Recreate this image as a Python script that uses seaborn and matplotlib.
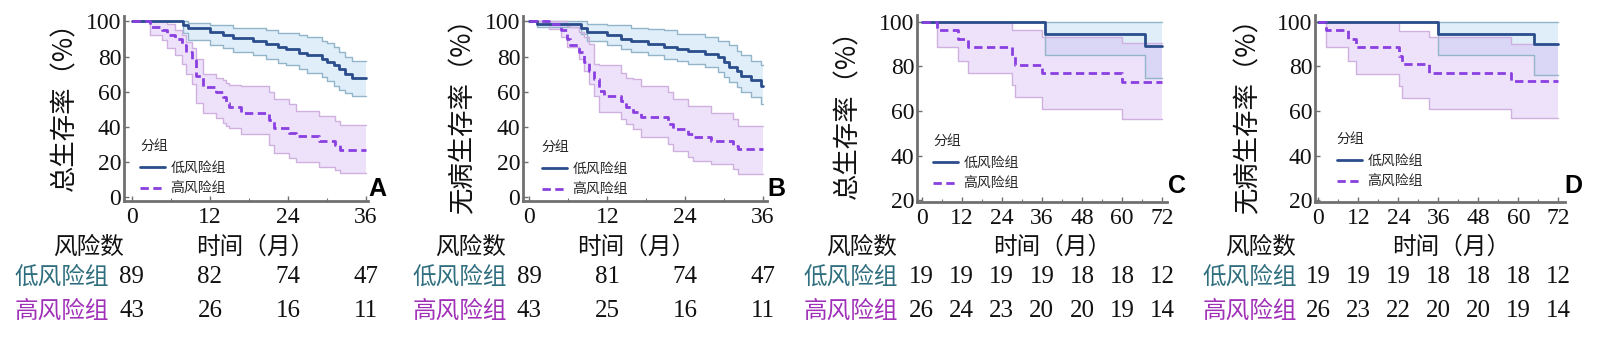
import matplotlib
matplotlib.use("Agg")
import matplotlib.pyplot as plt
import matplotlib.transforms as mtransforms
from matplotlib.ticker import MultipleLocator
import seaborn as sns

# ---------------- data ----------------
# Panel A : overall survival (training set, 36 months)
a_low_t = [0, 7.9, 8.7, 12, 14, 15.5, 18.6, 20.6, 22.4, 23.7, 25.7, 27, 29.2, 30, 31, 31.8, 32.8, 33.8, 36]
a_low_s = [100, 98, 96, 94.2, 92.3, 90.8, 88.8, 86.9, 85.6, 84.2, 82.3, 80.8, 78.8, 77, 75, 72.7, 70.2, 67.7, 67.7]
a_low_hi = [100, 100, 99, 98, 98, 96.5, 96.5, 95.2, 93.3, 93.3, 92, 91, 89, 88, 85.6, 82.7, 79.8, 77.5, 77.5]
a_low_lo = [100, 93.3, 89.4, 86.5, 84.6, 82.7, 80.8, 78.5, 76.5, 75, 73, 70.8, 68.3, 65.8, 63.5, 61, 59.2, 57.3, 57.3]
a_high_t = [0, 2.8, 4.6, 5.4, 6.6, 7.7, 8.4, 9.2, 9.9, 11, 13, 14, 14.5, 15, 16.8, 21.1, 21.9, 24.2, 25.2, 28.7, 31.3, 32, 36]
a_high_s = [100, 97.1, 95.2, 92.3, 90, 86.5, 82.7, 78.8, 69.2, 62.5, 59.6, 56.7, 53.8, 51.5, 48, 43.8, 39.4, 36.5, 34.6, 31.7, 29.8, 26.9, 26.9]
a_high_hi = [100, 100, 100, 98.5, 95.2, 92.3, 88.5, 84.6, 78.8, 70, 68, 66.5, 65, 64, 63, 59.6, 55.8, 52.9, 49, 46.2, 43.3, 40.8, 40.8]
a_high_lo = [100, 92.3, 89.4, 84.6, 80.8, 76, 70.2, 64.4, 53.8, 48, 45.2, 42.3, 40.5, 39.4, 35.6, 29.8, 25, 22.1, 20.2, 17.3, 15.4, 13.8, 13.8]

# Panel B : disease-free survival (training set, 36 months)
b_low_t = [0, 1.2, 7.9, 8.9, 12, 14.1, 15.6, 18.2, 20.8, 22.8, 24.4, 27, 29, 30, 30.8, 31.9, 32.6, 34.2, 35.7, 36]
b_low_s = [100, 98.3, 96.4, 93.9, 92, 90.1, 88.8, 87.2, 85.7, 84.4, 83, 81.5, 79.6, 76.8, 73.9, 72, 69.1, 66.7, 63.4, 63.4]
b_low_hi = [100, 100, 100, 98.7, 97.7, 97.7, 96.4, 95.5, 94.9, 93, 93, 91, 89.1, 89.1, 86.3, 83.4, 80.6, 77.7, 74.9, 74.9]
b_low_lo = [100, 96.8, 93, 89.1, 86.3, 84.4, 82.5, 80.6, 78.7, 77.3, 75.8, 73.9, 71, 68.2, 65.3, 62.5, 59.6, 56.8, 53, 53]
b_high_t = [0, 3, 4.8, 5.8, 6.3, 7.6, 8.4, 9.2, 9.9, 10.7, 11.5, 14.1, 14.8, 15.9, 17.2, 21.3, 22.1, 24.4, 25.2, 28, 31.3, 32.1, 36]
b_high_s = [100, 98.3, 94.9, 90.1, 86.3, 82.5, 76.8, 72, 67.2, 60.6, 57.7, 54.9, 51, 48.2, 45.7, 41.5, 38.7, 35.8, 34.3, 31.6, 29.1, 27.4, 27.4]
b_high_hi = [100, 100, 100, 97.5, 97, 94, 91, 87.2, 76, 75, 75, 70.5, 67.5, 67, 63.5, 59.6, 56, 52, 52, 48, 44.4, 40.6, 40.6]
b_high_lo = [100, 95.8, 91, 85.3, 85.3, 78.7, 72, 64.4, 57.7, 48.2, 48.2, 44.4, 41.5, 38.7, 33.9, 30.1, 26.3, 22.5, 20.6, 18.7, 15.8, 13, 13]

# Panel C : overall survival (validation set, 72 months)
c_low_t = [0, 37, 67, 72]
c_low_s = [100, 94.7, 89, 89]
c_low_hi = [100, 100, 100, 100]
c_low_lo = [100, 85, 74.6, 74.6]
c_high_t = [0, 4.7, 11, 14, 27, 28, 36, 60, 72]
c_high_s = [100, 96.2, 92.3, 88.5, 84.6, 80.8, 76.9, 73.1, 73.1]
c_high_hi = [100, 100, 100, 100, 96.5, 96.5, 93.2, 90.3, 90.3]
c_high_lo = [100, 88.8, 82.4, 76.8, 71.6, 66.4, 61.1, 56.6, 56.6]

# Panel D : disease-free survival (validation set, 72 months)
d_low_t = [0, 36, 64.7, 72]
d_low_s = [100, 94.6, 89.8, 89.8]
d_low_hi = [100, 100, 100, 100]
d_low_lo = [100, 85, 76, 76]
d_high_t = [0, 2.2, 9, 11.2, 24.2, 25, 33.2, 57.7, 72]
d_high_s = [100, 96.1, 92.3, 88.6, 84.6, 81.2, 77.1, 73.4, 73.4]
d_high_hi = [100, 100, 100, 100, 95.8, 95.8, 93.1, 90.1, 90.1]
d_high_lo = [100, 88.6, 82.4, 76.7, 71.2, 65.9, 61.1, 56.7, 56.7]

# Number-at-risk tables
ab_risk_times = [0, 12, 24, 36]
a_risk_low = [89, 82, 74, 47]
a_risk_high = [43, 26, 16, 11]
b_risk_low = [89, 81, 74, 47]
b_risk_high = [43, 25, 16, 11]
cd_risk_times = [0, 12, 24, 36, 48, 60, 72]
c_risk_low = [19, 19, 19, 19, 18, 18, 12]
c_risk_high = [26, 24, 23, 20, 20, 19, 14]
d_risk_low = [19, 19, 19, 18, 18, 18, 12]
d_risk_high = [26, 23, 22, 20, 20, 19, 14]

group_labels = ["低风险组", "高风险组"]
legend_title = "分组"
ylabels = ["总生存率（%）", "无病生存率（%）", "总生存率（%）", "无病生存率（%）"]
panel_letters = ["A", "B", "C", "D"]
risk_header = "风险数"
time_header = "时间（月）"

# ---------------- style ----------------
sns.set_theme(style="white")
plt.rcParams["font.family"] = ["Noto Sans CJK SC", "DejaVu Sans"]

BLUE = "#2b4d8c"
PURPLE = "#8a3fe0"
BLUE_FILL = "#a8d0f0"
PURPLE_FILL = "#c9a0f0"
BLUE_EDGE = "#93b5c9"
PURPLE_EDGE = "#cfb0e0"
SPINE = "#707070"
LOW_TXT = "#2f6e7e"
HIGH_TXT = "#a030b8"
SERIF = ["Liberation Serif", "DejaVu Serif"]

W, H = 1600, 338
fig = plt.figure(figsize=(16, 3.38), dpi=100)


def px_axes(left, right, top, bottom):
    return fig.add_axes([left / W, 1 - bottom / H, (right - left) / W, (bottom - top) / H])


panels = [
    dict(box=(124, 368, 16, 201), xlim=(-1.2, 36.3), ylim=(-2.3, 103.1), yt=[0, 20, 40, 60, 80, 100],
         xt=[0, 12, 24, 36], minor=6, low=(a_low_t, a_low_s, a_low_lo, a_low_hi),
         high=(a_high_t, a_high_s, a_high_lo, a_high_hi), risk=(ab_risk_times, a_risk_low, a_risk_high),
         ylab_x=-0.242, ylab_y=0.545, leg=(0.066, 0.335), letter=(377, 189),
         rh=88, th=255, gl=61.5),
    dict(box=(523, 767, 16, 201), xlim=(-1.0, 36.6), ylim=(-2.3, 103.1), yt=[0, 20, 40, 60, 80, 100],
         xt=[0, 12, 24, 36], minor=6, low=(b_low_t, b_low_s, b_low_lo, b_low_hi),
         high=(b_high_t, b_high_s, b_high_lo, b_high_hi), risk=(ab_risk_times, b_risk_low, b_risk_high),
         ylab_x=-0.246, ylab_y=0.5, leg=(0.077, 0.33), letter=(776, 189),
         rh=471, th=636, gl=459.5),
    dict(box=(917, 1167, 15, 202), xlim=(-1.4, 73.5), ylim=(19.2, 103.0), yt=[20, 40, 60, 80, 100],
         xt=[0, 12, 24, 36, 48, 60, 72], minor=6, low=(c_low_t, c_low_s, c_low_lo, c_low_hi),
         high=(c_high_t, c_high_s, c_high_lo, c_high_hi), risk=(cd_risk_times, c_risk_low, c_risk_high),
         ylab_x=-0.276, ylab_y=0.505, leg=(0.064, 0.364), letter=(1177, 186),
         rh=862, th=1052, gl=850.5),
    dict(box=(1315, 1565, 15, 202), xlim=(-1.0, 74.0), ylim=(19.2, 103.0), yt=[20, 40, 60, 80, 100],
         xt=[0, 12, 24, 36, 48, 60, 72], minor=6, low=(d_low_t, d_low_s, d_low_lo, d_low_hi),
         high=(d_high_t, d_high_s, d_high_lo, d_high_hi), risk=(cd_risk_times, d_risk_low, d_risk_high),
         ylab_x=-0.268, ylab_y=0.5, leg=(0.087, 0.374), letter=(1573, 186),
         rh=1261, th=1451, gl=1250),
]

for i, p in enumerate(panels):
    ax = px_axes(*p["box"])
    ax.set_facecolor("white")
    groups = [(p["low"], BLUE, BLUE_FILL, 0.35, BLUE_EDGE, "-", group_labels[0]),
              (p["high"], PURPLE, PURPLE_FILL, 0.30, PURPLE_EDGE, (0, (3.0, 1.6)), group_labels[1])]
    # confidence bands
    for (t, s, lo, hi), col, fcol, alpha, ecol, ls, lab in groups:
        ax.fill_between(t, lo, hi, step="post", color=fcol, alpha=alpha, lw=0, zorder=1)
        sns.lineplot(x=t, y=lo, ax=ax, drawstyle="steps-post", color=ecol, lw=1.0,
                     estimator=None, sort=False, zorder=2)
        sns.lineplot(x=t, y=hi, ax=ax, drawstyle="steps-post", color=ecol, lw=1.0,
                     estimator=None, sort=False, zorder=2)
    # survival curves
    for (t, s, lo, hi), col, fcol, alpha, ecol, ls, lab in groups:
        sns.lineplot(x=t, y=s, ax=ax, drawstyle="steps-post", color=col, lw=2.0,
                     linestyle=ls, estimator=None, sort=False, zorder=4, label=lab)
    handles, labels = ax.get_legend_handles_labels()
    ax.legend(handles[-2:], labels[-2:], title=legend_title, loc="upper left",
              bbox_to_anchor=p["leg"], frameon=False, fontsize=10, title_fontsize=10,
              handlelength=1.8, handletextpad=0.4, labelspacing=0.55, borderpad=0,
              borderaxespad=0, alignment="left")

    ax.set_xlim(*p["xlim"])
    ax.set_ylim(*p["ylim"])
    ax.set_xticks(p["xt"])
    ax.set_yticks(p["yt"])
    ax.xaxis.set_minor_locator(MultipleLocator(p["minor"]))
    for side in ["top", "right"]:
        ax.spines[side].set_visible(False)
    for side in ["left", "bottom"]:
        ax.spines[side].set_color(SPINE)
        ax.spines[side].set_linewidth(2.0)
    ax.tick_params(axis="both", which="major", direction="in", length=3.5, width=1.0,
                   color=SPINE, labelsize=17, bottom=True, left=True)
    ax.tick_params(axis="x", which="major", pad=4)
    ax.tick_params(axis="y", which="major", pad=2)
    ax.tick_params(axis="x", which="minor", direction="in", length=2.5, width=0.8,
                   color=SPINE, bottom=True)
    for lbl in ax.get_xticklabels() + ax.get_yticklabels():
        lbl.set_fontfamily(SERIF)
        lbl.set_color("#111111")
    ax.set_ylabel(ylabels[i], fontsize=19, va="center", color="#111111")
    ax.yaxis.set_label_coords(p["ylab_x"], p["ylab_y"])
    ax.set_xlabel("")

    # panel letter
    fig.text(p["letter"][0] / W, 1 - p["letter"][1] / H, panel_letters[i], fontsize=18,
             fontweight="bold", family=["Liberation Sans Narrow", "Liberation Sans", "DejaVu Sans"],
             ha="center", va="center", color="#000000")

    # number-at-risk table
    rt, rlow, rhigh = p["risk"]
    fig.text(p["rh"] / W, 1 - 247 / H, risk_header, fontsize=17, ha="center", va="center", color="#111111")
    fig.text(p["th"] / W, 1 - 247 / H, time_header, fontsize=17, ha="center", va="center", color="#111111")
    fig.text(p["gl"] / W, 1 - 277 / H, group_labels[0], fontsize=17, ha="center", va="center", color=LOW_TXT)
    fig.text(p["gl"] / W, 1 - 311 / H, group_labels[1], fontsize=17, ha="center", va="center", color=HIGH_TXT)
    trans = mtransforms.blended_transform_factory(ax.transData, fig.transFigure)
    for tv, n in zip(rt, rlow):
        ax.text(tv, 1 - 277 / H, str(n), transform=trans, fontsize=18, family=SERIF,
                ha="center", va="center", color="#111111", clip_on=False)
    for tv, n in zip(rt, rhigh):
        ax.text(tv, 1 - 311 / H, str(n), transform=trans, fontsize=18, family=SERIF,
                ha="center", va="center", color="#111111", clip_on=False)

fig.savefig("out.png", dpi=100, facecolor="white")
